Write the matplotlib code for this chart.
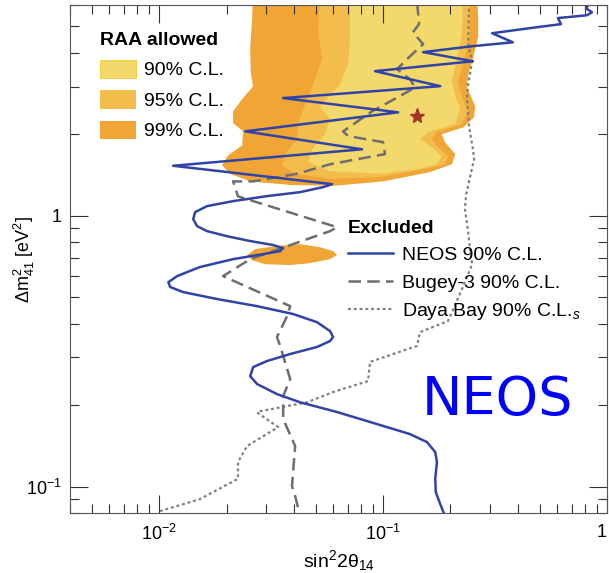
import numpy as np
import matplotlib
matplotlib.use("Agg")
import matplotlib.pyplot as plt
from matplotlib.patches import Patch
from matplotlib.lines import Line2D
from matplotlib.ticker import NullFormatter

plt.rcParams['font.family'] = ['Liberation Sans', 'DejaVu Sans']
plt.rcParams['mathtext.fontset'] = 'custom'
plt.rcParams['mathtext.rm'] = 'Liberation Sans'
plt.rcParams['mathtext.it'] = 'Liberation Sans:italic'
plt.rcParams['mathtext.bf'] = 'Liberation Sans:bold'

# NEOS 90% C.L. exclusion contour (sin^2 2theta_14, dm^2_41)
neos_x = [0.840, 0.805, 0.857, 0.814, 0.604, 0.623, 0.453, 0.307, 0.380, 0.252,
          0.151, 0.252, 0.0921, 0.180, 0.0358, 0.1167, 0.0242, 0.0806, 0.01155,
          0.0592, 0.0540, 0.0426, 0.0303, 0.0214, 0.01638, 0.01448, 0.0142, 0.01478, 0.01638,
          0.0201, 0.0255, 0.0323, 0.0358, 0.0347, 0.0291, 0.0214, 0.0152, 0.01203, 0.0110,
          0.0112, 0.0128, 0.01815, 0.0274, 0.0397, 0.0507, 0.058, 0.0598, 0.058, 0.0507,
          0.0385, 0.0303, 0.0263, 0.0255, 0.0274, 0.0336, 0.0426, 0.0623, 0.094, 0.132,
          0.157, 0.171, 0.174, 0.171, 0.172, 0.180, 0.189]
neos_y = [6.1, 5.84, 5.64, 5.50, 5.37, 5.10, 4.93, 4.72, 4.37, 4.23,
          4.02, 3.72, 3.42, 3.01, 2.72, 2.41, 2.05, 1.76, 1.53,
          1.309, 1.276, 1.223, 1.182, 1.133, 1.086, 1.032, 0.972, 0.916, 0.878,
          0.841, 0.807, 0.780, 0.760, 0.741, 0.722, 0.692, 0.647, 0.599, 0.569,
          0.546, 0.523, 0.493, 0.464, 0.434, 0.405, 0.3754, 0.357, 0.345, 0.328,
          0.309, 0.291, 0.2765, 0.256, 0.2393, 0.2198, 0.205, 0.1887, 0.1703, 0.1564,
          0.1462, 0.1343, 0.1234, 0.107, 0.0955, 0.0863, 0.078]

# Bugey-3 90% C.L.
bugey_x = [0.142, 0.1448, 0.136, 0.151, 0.132, 0.1155, 0.132, 0.139, 0.123, 0.0893,
           0.0663, 0.0698, 0.100, 0.102, 0.058, 0.0413, 0.0263, 0.0214, 0.0225, 0.0623,
           0.058, 0.0255, 0.0193, 0.0385, 0.0373, 0.0336, 0.0347, 0.0385, 0.0358, 0.0358,
           0.0405, 0.0392, 0.0405, 0.0426]
bugey_y = [6.1, 5.10, 4.76, 4.30, 3.88, 3.48, 3.19, 2.98, 2.81, 2.43,
           2.05, 1.97, 1.87, 1.69, 1.55, 1.43, 1.34, 1.34, 1.18, 0.908,
           0.878, 0.692, 0.599, 0.464, 0.4265, 0.357, 0.331, 0.2496, 0.216, 0.178,
           0.1413, 0.1006, 0.0924, 0.078]

# Daya Bay 90% C.L.
daya_x = [0.242, 0.240, 0.250, 0.240, 0.237, 0.242, 0.252, 0.255, 0.235, 0.232,
          0.240, 0.2445, 0.250, 0.225, 0.195, 0.146, 0.142, 0.0875, 0.0857, 0.0598,
          0.0458, 0.0282, 0.0274, 0.0340, 0.0247, 0.0225, 0.0225, 0.0152, 0.0101]
daya_y = [6.1, 4.30, 3.72, 3.06, 2.70, 2.14, 1.76, 1.62, 1.20, 1.06,
          0.871, 0.753, 0.663, 0.536, 0.409, 0.372, 0.331, 0.289, 0.2455, 0.2236,
          0.205, 0.190, 0.188, 0.166, 0.1413, 0.1234, 0.107, 0.090, 0.0813]

# RAA allowed regions
c99_x = [0.0263, 0.0260, 0.0255, 0.0257, 0.0263, 0.0235, 0.0214, 0.0214, 0.0237, 0.0235,
         0.0203, 0.0191, 0.0207, 0.0255, 0.0385, 0.0598, 0.100, 0.162, 0.203, 0.210,
         0.189, 0.183, 0.228, 0.255, 0.258, 0.237, 0.240, 0.252, 0.266, 0.266, 0.263]
c99_y = [6.5, 5.32, 4.12, 3.33, 3.01, 2.70, 2.43, 2.20, 2.05, 1.82,
         1.67, 1.54, 1.43, 1.34, 1.30, 1.29, 1.34, 1.45, 1.55, 1.69,
         1.87, 2.00, 2.12, 2.31, 2.54, 2.98, 3.33, 3.79, 4.60, 5.32, 6.5]

c95_x = [0.0523, 0.0513, 0.0534, 0.0487, 0.0449, 0.0417, 0.0413, 0.0365, 0.0354, 0.0405,
         0.058, 0.097, 0.154, 0.189, 0.195, 0.176, 0.1655, 0.174, 0.225, 0.240,
         0.225, 0.216, 0.232, 0.2445, 0.2445]
c95_y = [6.5, 4.89, 3.79, 3.06, 2.58, 2.18, 1.92, 1.69, 1.53, 1.43,
         1.37, 1.39, 1.49, 1.55, 1.66, 1.79, 1.92, 2.04, 2.18, 2.43,
         2.77, 3.14, 3.79, 4.68, 6.5]

c90_x = [0.0712, 0.0712, 0.0698, 0.0643, 0.0568, 0.0523, 0.058, 0.0551, 0.0482, 0.0463,
         0.058, 0.097, 0.146, 0.174, 0.183, 0.1655, 0.146, 0.159, 0.210, 0.221,
         0.210, 0.203, 0.214, 0.225, 0.228]
c90_y = [6.5, 4.49, 3.63, 3.06, 2.74, 2.52, 2.28, 2.00, 1.76, 1.58,
         1.46, 1.43, 1.49, 1.55, 1.66, 1.79, 1.92, 2.04, 2.18, 2.48,
         2.77, 3.14, 3.79, 4.68, 6.5]

blob_x = [0.0247, 0.0268, 0.0330, 0.0426, 0.0523, 0.0598, 0.0623, 0.058, 0.0472, 0.0385, 0.0297, 0.0260]
blob_y = [0.716, 0.753, 0.773, 0.786, 0.766, 0.741, 0.716, 0.692, 0.669, 0.658, 0.663, 0.686]

best_fit = (0.142, 2.33)

x_ticks = [0.01, 0.1, 1]
x_ticklabels = ['$10^{-2}$', '$10^{-1}$', '1']
y_ticks = [0.1, 1]
y_ticklabels = ['$10^{-1}$', '1']

col90 = '#F3D86B'
col95 = '#F2BD4C'
col99 = '#F0A535'
blue = '#3044A8'
gray_dash = '#6E6E6E'
gray_dot = '#808080'

fig = plt.figure(figsize=(6.09, 5.73), dpi=100)
ax = fig.add_axes([70 / 609, 1 - 513 / 573, 537 / 609, 508 / 573])

ax.fill(c99_x, c99_y, color=col99, lw=0)
ax.fill(c95_x, c95_y, color=col95, lw=0)
ax.fill(c90_x, c90_y, color=col90, lw=0)
ax.fill(blob_x, blob_y, color=col99, lw=0)

ax.plot(daya_x, daya_y, color=gray_dot, lw=1.6, dashes=(1.3, 1.3))
ax.plot(bugey_x, bugey_y, color=gray_dash, lw=1.8, dashes=(5, 2.5))
ax.plot(neos_x, neos_y, color=blue, lw=1.8, solid_joinstyle='round')
ax.plot(*best_fit, marker='*', color='#A3322A', ms=11, ls='none')

ax.set_xscale('log')
ax.set_yscale('log')
ax.set_xlim(0.004, 1)
ax.set_ylim(0.08, 6)

ax.set_xticks(x_ticks, x_ticklabels)
ax.set_yticks(y_ticks, y_ticklabels)
ax.xaxis.set_minor_formatter(NullFormatter())
ax.yaxis.set_minor_formatter(NullFormatter())
ax.get_xticklabels()[-1].set_horizontalalignment('right')

ax.tick_params(which='both', direction='in', top=True, right=True, width=0.8,
               color='#333333', labelsize=13)
ax.tick_params(which='major', length=13)
ax.tick_params(which='minor', length=6.5)
ax.tick_params(axis='x', pad=8)
ax.tick_params(axis='y', pad=6)
for s in ax.spines.values():
    s.set_linewidth(0.8)
    s.set_color('#555555')

ax.set_xlabel('sin$^{2}$2θ$_{14}$', fontsize=14)
ax.xaxis.set_label_coords(0.5, -0.07)
ax.set_ylabel('Δm$^{2}_{41}$ [eV$^{2}$]', fontsize=13)
ax.yaxis.set_label_coords(-0.062, 0.5)

h1 = [Patch(facecolor=col90, edgecolor='#F2CC30', lw=0.6),
      Patch(facecolor=col95, edgecolor='none'),
      Patch(facecolor=col99, edgecolor='none')]
leg1 = ax.legend(h1, ['90% C.L.', '95% C.L.', '99% C.L.'], title='RAA allowed',
                 loc='upper left', bbox_to_anchor=(0.056, 0.947), frameon=False,
                 fontsize=14, title_fontproperties={'weight': 'bold', 'size': 14},
                 alignment='left', handlelength=1.85, handleheight=1.08,
                 handletextpad=0.4, labelspacing=0.55, borderpad=0, borderaxespad=0)
ax.add_artist(leg1)

h2 = [Line2D([], [], color=blue, lw=1.8),
      Line2D([], [], color=gray_dash, lw=1.8, dashes=(5, 2.5)),
      Line2D([], [], color=gray_dot, lw=1.6, dashes=(1.3, 1.3))]
ax.legend(h2, ['NEOS 90% C.L.', 'Bugey-3 90% C.L.', 'Daya Bay 90% C.L.$_{s}$'],
          title='Excluded', loc='upper left', bbox_to_anchor=(0.518, 0.577),
          frameon=False, fontsize=14, title_fontproperties={'weight': 'bold', 'size': 14},
          alignment='left', handlelength=2.3, handletextpad=0.45, labelspacing=0.5,
          borderpad=0, borderaxespad=0)

ax.text(0.797, 0.222, 'NEOS', transform=ax.transAxes, color='#0000FF',
        fontsize=39, family='DejaVu Sans', ha='center', va='center')

fig.savefig('out.png', dpi=100)
